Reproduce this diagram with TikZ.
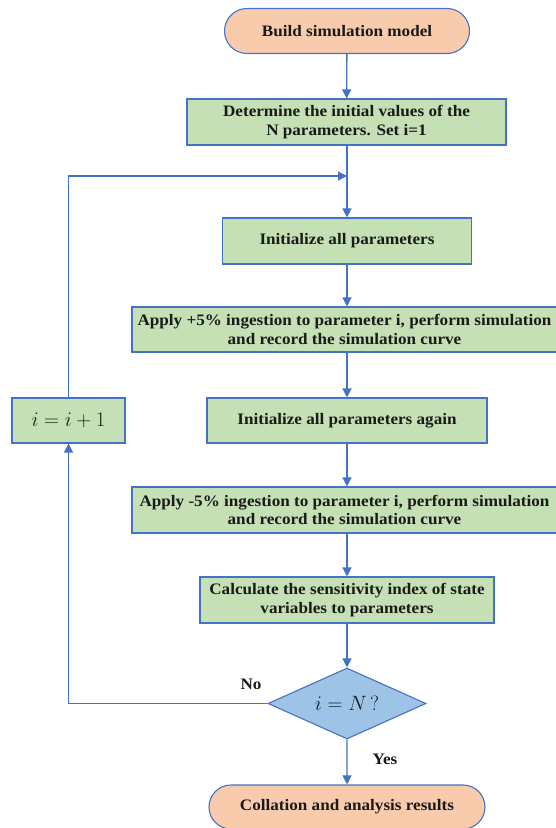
\documentclass[tikz,border=0pt]{standalone}
\usepackage{fontspec}
\setmainfont[FakeStretch=1.07]{Liberation Serif}
\usetikzlibrary{shapes.geometric,shapes.misc,arrows.meta}
\definecolor{edgeblue}{HTML}{4472C4}
\definecolor{termfill}{HTML}{F8CBAD}
\definecolor{procfill}{HTML}{C5E0B4}
\definecolor{decfill}{HTML}{9DC3E6}
\definecolor{txt}{HTML}{1A1A1A}
\tikzset{
  base/.style={draw=edgeblue, line width=1.1pt, text=txt, font=\bfseries\fontsize{16}{18.5}\selectfont, align=center, inner sep=2pt},
  term/.style={base, rounded rectangle, fill=termfill},
  proc/.style={base, rectangle, fill=procfill},
  decision/.style={base, diamond, fill=decfill, aspect=2.2, inner sep=0pt},
  flow/.style={draw=edgeblue, line width=1.3pt, -{Triangle[length=9pt,width=9pt]}},
  lbl/.style={text=txt, font=\bfseries\fontsize{16}{18.5}\selectfont}
}
\begin{document}
\begin{tikzpicture}[x=1pt,y=-1pt]
\useasboundingbox (0,0) rectangle (555,828);
\node[term, minimum width=249pt, minimum height=45pt] (start) at (347,31) {Build simulation model};
\node[proc, minimum width=319pt, minimum height=46pt] (setn) at (346.5,122) {Determine the initial values of the\\N parameters. Set i=1};
\node[proc, minimum width=249pt, minimum height=46pt] (initall) at (347,241) {Initialize all parameters};
\node[proc, minimum width=425pt, minimum height=45pt] (plus) at (344.5,329.5) {Apply +5\% ingestion to parameter i, perform simulation\\and record the simulation curve};
\node[proc, minimum width=280pt, minimum height=45pt] (again) at (347,420.5) {Initialize all parameters again};
\node[proc, minimum width=113pt, minimum height=45pt, font=\fontsize{20}{22}\selectfont] (incr) at (68.5,420.5) {$i=i+1$};
\node[proc, minimum width=425pt, minimum height=46pt] (minus) at (344.5,510) {Apply -5\% ingestion to parameter i, perform simulation\\and record the simulation curve};
\node[proc, minimum width=294pt, minimum height=46pt] (calc) at (347,600) {Calculate the sensitivity index of state\\variables to parameters};
\node[decision, minimum width=158pt, minimum height=71pt, font=\fontsize{20}{22}\selectfont] (check) at (347,703.5) {$i=N\,?$};
\node[term, minimum width=280pt, minimum height=44pt] (finish) at (347,807) {Collation and analysis results};
\coordinate (join) at (347,176);

\draw[flow] (start) -- (setn);
\draw[flow] (setn.south -| join) -- (initall);
\draw[flow] (initall) -- (initall |- plus.north);
\draw[flow] (initall |- plus.south) -- (again);
\draw[flow] (again) -- (again |- minus.north);
\draw[flow] (again |- minus.south) -- (calc);
\draw[flow] (calc) -- (check);
\draw[flow] (check) -- (finish);
\draw[flow] (check.west) -| (incr.south);
\draw[flow] (incr.north) |- (join);
\node[lbl] (no) at (251,684) {No};
\node[lbl] (yes) at (385,759) {Yes};
\end{tikzpicture}
\end{document}
